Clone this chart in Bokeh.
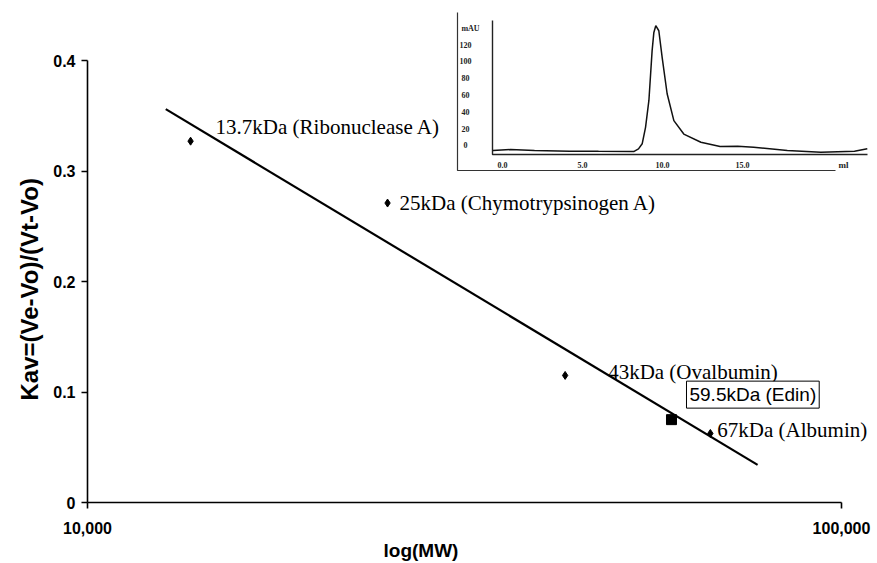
import math
from bokeh.plotting import figure
from bokeh.models import (Range1d, LinearScale, FixedTicker, NumeralTickFormatter, Label, Title)
from bokeh.core.properties import value
from bokeh.embed import file_html
from bokeh.resources import INLINE

# ---------------- data ----------------
std_mw = [13700, 25000, 43000, 67000]
std_kav = [0.327, 0.271, 0.115, 0.0625]
std_labels = ["13.7kDa (Ribonuclease A)", "25kDa (Chymotrypsinogen A)",
              "43kDa (Ovalbumin)", "67kDa (Albumin)"]
edin_mw = [59500]
edin_kav = [0.075]
edin_label = "59.5kDa (Edin)"
trend_mw = [12700, 77400]
trend_kav = [0.356, 0.034]
x_ticks = [10000, 100000]
y_ticks = [0, 0.1, 0.2, 0.3, 0.4]
x_title = "log(MW)"
y_title = "Kav=(Ve-Vo)/(Vt-Vo)"

chrom_ml = [-0.6, 0.5, 2.0, 4.2, 6.0, 8.2, 8.5, 8.73, 8.94, 9.15, 9.35, 9.46, 9.58,
            9.77, 9.98, 10.29, 10.71, 11.33, 12.4, 13.6, 14.7, 15.7, 17.8, 19.9, 22.0, 22.8]
chrom_mau = [-3.6, -2.4, -3.5, -4.4, -4.6, -4.8, -1.6, 4.4, 24, 56, 115, 137, 145,
             139, 107, 64, 32, 16, 6.3, 1.2, 1.6, 0.4, -3.6, -5.6, -4.4, -1.6]
inset_x_ticks = [0, 5, 10, 15]
inset_x_labels = ["0.0", "5.0", "10.0", "15.0"]
inset_x_unit = "ml"
inset_y_ticks = [0, 20, 40, 60, 80, 100, 120]
inset_y_labels = ["0", "20", "40", "60", "80", "100", "120"]
inset_y_unit = "mAU"

# ---------------- layout (pixels) ----------------
W, H = 874, 563
BL, BR, BT, BB = 87, 4, 10, 61
FW = W - BL - BR          # frame width
FH = H - BT - BB          # frame height
DECADE_PX = 754.0         # px per decade on x
KAV_PX = 1105.0           # px per 1.0 Kav
x_end = 10 ** (4 + FW / DECADE_PX)
y_end = FH / KAV_PX

# inset mapping: frame px from left = 415 + ml*16 ; from bottom = 355 + mau*0.84
IX0, IXS = 415.0, 16.0
IY0, IYS = 355.0, 0.84
ix_start, ix_end = -IX0 / IXS, (FW - IX0) / IXS
iy_start, iy_end = -IY0 / IYS, (FH - IY0) / IYS

p = figure(width=W, height=H, x_axis_type="log",
           x_range=Range1d(10000, x_end), y_range=Range1d(0, y_end),
           output_backend="svg", toolbar_location=None,
           min_border_left=BL, min_border_right=BR,
           min_border_top=BT, min_border_bottom=BB)
p.outline_line_color = None
p.xgrid.visible = False
p.ygrid.visible = False
p.background_fill_color = "white"
p.border_fill_color = "white"

p.extra_x_ranges = {"ix": Range1d(ix_start, ix_end)}
p.extra_y_ranges = {"iy": Range1d(iy_start, iy_end)}
p.extra_x_scales = {"ix": LinearScale()}
p.extra_y_scales = {"iy": LinearScale()}

# axes
xa = p.xaxis[0]
xa.ticker = FixedTicker(ticks=x_ticks, minor_ticks=[])
xa.formatter = NumeralTickFormatter(format="0,0")
xa.bounds = (x_ticks[0], x_ticks[-1])
ya = p.yaxis[0]
ya.ticker = FixedTicker(ticks=y_ticks, minor_ticks=[])
ya.formatter = NumeralTickFormatter(format="0.[0]")
ya.bounds = (y_ticks[0], y_ticks[-1])
for ax in (xa, ya):
    ax.axis_line_width = 1.6
    ax.axis_line_color = "black"
    ax.major_tick_line_color = "black"
    ax.major_tick_line_width = 1.6
    ax.major_tick_in = 0
    ax.major_tick_out = 6
    ax.minor_tick_line_color = None
    ax.major_label_text_font = "Liberation Sans"
    ax.major_label_text_font_style = "bold"
    ax.major_label_text_font_size = "16px"
    ax.major_label_text_color = "black"
xa.major_label_standoff = 13
ya.major_label_standoff = 6

# axis titles
p.add_layout(Title(text=x_title, align="left", offset=296, standoff=2,
                   text_font="Liberation Sans", text_font_style="bold",
                   text_font_size="19px", text_color="black"), "below")
p.add_layout(Title(text=y_title, align="left", offset=102, standoff=15,
                   text_font="Liberation Sans", text_font_style="bold",
                   text_font_size="24px", text_color="black"), "left")

# trend line and points
p.line(trend_mw, trend_kav, line_color="black", line_width=2.2)
p.scatter(std_mw, std_kav, marker="diamond", size=8, color="black")
p.scatter(edin_mw, edin_kav, marker="square", size=10, color="black")

label_dx = [25, 12, 43, 7]
label_dy = [14, 0, 3, 3]
for mw, kv, t, dx, dy in zip(std_mw, std_kav, std_labels, label_dx, label_dy):
    p.add_layout(Label(x=mw, y=kv, x_offset=dx, y_offset=dy, text=t,
                       text_align="left", text_baseline="middle",
                       text_font="Liberation Serif", text_font_size="21px",
                       text_color="black"))
p.add_layout(Label(x=edin_mw[0], y=edin_kav[0], x_offset=15, y_offset=25, text=edin_label,
                   text_align="left", text_baseline="middle",
                   text_font="Liberation Sans", text_font_size="19px", text_color="black",
                   border_line_color="black", border_line_width=1,
                   background_fill_color="white", padding=3))

# ---------------- inset chromatogram ----------------
R = dict(x_range_name="ix", y_range_name="iy")
ax_left = (492 - 502) / IXS
ax_bottom = (147 - 154) / IYS
ax_top = (147 - 20) / IYS
ax_right = (867 - 502) / IXS
box_left = (457 - 502) / IXS
box_top = (147 - 12) / IYS
box_bottom = (147 - 170) / IYS
box_right = (835 - 502) / IXS

p.line([box_left, box_left, box_right], [box_top, box_bottom, box_bottom],
       line_color="#333333", line_width=1.2, **R)
p.line([ax_left, ax_left, ax_right], [ax_top, ax_bottom, ax_bottom],
       line_color="#222222", line_width=1.4, **R)
p.line(chrom_ml, chrom_mau, line_color="#111111", line_width=1.5, **R)

lab_y = (147 - 164) / IYS
p.text(x=inset_x_ticks, y=[lab_y] * len(inset_x_ticks), text=inset_x_labels,
       text_align="center", text_baseline="middle",
       text_font=value("Liberation Serif"), text_font_style="bold",
       text_font_size="8px", text_color="#222222", **R)
p.text(x=[(843 - 502) / IXS], y=[lab_y], text=[inset_x_unit],
       text_align="center", text_baseline="middle",
       text_font=value("Liberation Serif"), text_font_style="bold",
       text_font_size="9px", text_color="#222222", **R)
lab_x = (465 - 502) / IXS
p.text(x=[lab_x] * len(inset_y_ticks), y=[v + 2.5 for v in inset_y_ticks], text=inset_y_labels,
       text_align="center", text_baseline="middle",
       text_font=value("Liberation Serif"), text_font_style="bold",
       text_font_size="8px", text_color="#222222", **R)
p.text(x=[(470 - 502) / IXS], y=[(147 - 28) / IYS], text=[inset_y_unit],
       text_align="center", text_baseline="middle",
       text_font=value("Liberation Serif"), text_font_style="bold",
       text_font_size="8px", text_color="#222222", **R)

open("out.html", "w").write(file_html(p, INLINE))
